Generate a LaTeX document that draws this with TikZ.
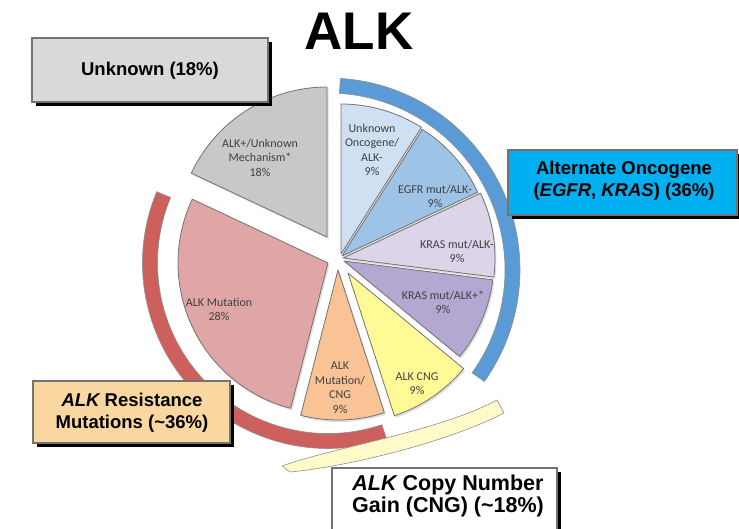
\documentclass[tikz,border=0pt]{standalone}
\usepackage{fontspec}
\setmainfont{Liberation Sans}
\newfontfamily\calfont{Carlito}
\usetikzlibrary{calc}
\definecolor{cGray}{RGB}{200,200,200}
\definecolor{cUnk}{RGB}{207,224,243}
\definecolor{cEgfr}{RGB}{157,195,230}
\definecolor{cKrasN}{RGB}{220,212,232}
\definecolor{cKrasP}{RGB}{180,167,210}
\definecolor{cCng}{RGB}{255,250,150}
\definecolor{cMutCng}{RGB}{250,195,150}
\definecolor{cMut}{RGB}{224,165,165}
\definecolor{cBlueBand}{RGB}{91,155,213}
\definecolor{cRedBand}{RGB}{205,96,92}
\definecolor{cYelBand}{RGB}{255,251,200}
\definecolor{cBoxGray}{RGB}{217,217,217}
\definecolor{cCyan}{RGB}{0,176,240}
\definecolor{cPeach}{RGB}{250,214,160}
\definecolor{cBorder}{RGB}{115,115,115}
\definecolor{cText}{RGB}{64,64,64}
\tikzset{
  slice/.style={draw=cBorder, line width=0.8pt, line join=round},
  sliceshadow/.style={fill=black!35, opacity=0.35},
  band/.style={draw=cBorder!80, line width=0.6pt, line join=round},
  slicelabel/.style={font=\calfont\fontsize{12}{14.5}\selectfont, text=cText, align=center, inner sep=0pt},
  boxlabel/.style={font=\bfseries\fontsize{18.5}{22}\selectfont, align=center, inner sep=0pt},
  boxframe/.style={draw=cBorder, line width=2.5pt},
  boxshadow/.style={fill=black},
}
% apex, start angle, end angle, radius (pt), colour
\newcommand\pieslc[5]{%
  \path[sliceshadow] ($(#1)+(1.5,-2)$) -- ++(#2:#4pt) arc[start angle=#2, end angle=#3, radius=#4pt] -- cycle;
  \path[fill=#5, slice] (#1) -- ++(#2:#4pt) arc[start angle=#2, end angle=#3, radius=#4pt] -- cycle;
}
\begin{document}
\begin{tikzpicture}[x=1pt,y=1pt]
\useasboundingbox (0,0) rectangle (739,-529);
\fill[white] (0,0) rectangle (739,-529);

% outer bands
\coordinate (cB) at (328,-270);
\path[fill=cBlueBand, band] ($(cB)+(86.3:192pt)$) arc[start angle=86.3, end angle=-35.5, radius=192pt]
   -- ($(cB)+(-35.5:177pt)$) arc[start angle=-35.5, end angle=86.3, radius=177pt] -- cycle;
\coordinate (cR) at (328,-263);
\path[fill=cRedBand, band] ($(cR)+(157.4:185.5pt)$) arc[start angle=157.4, end angle=288.4, radius=185.5pt]
   -- ($(cR)+(288.4:170.5pt)$) arc[start angle=288.4, end angle=157.4, radius=170.5pt] -- cycle;
\coordinate (y1) at (282,-466);
\coordinate (y2) at (497,-400);
\coordinate (y3) at (504,-413);
\coordinate (y4) at (290,-472);
\path[fill=cYelBand, band] (y1) .. controls (335,-447) and (440,-431) .. (y2)
   -- (y3) .. controls (446,-443) and (345,-467) .. (y4) -- cycle;

% slices
\coordinate (aG) at (327,-237);
\coordinate (aU) at (341,-254);
\coordinate (aE) at (342,-256);
\coordinate (aKn) at (343,-258);
\coordinate (aKp) at (344,-261);
\coordinate (aC) at (348,-273);
\coordinate (aMC) at (338,-270);
\coordinate (aM) at (328,-263);
\pieslc{aG}{90}{154.8}{150}{cGray}
\pieslc{aU}{57.6}{90}{150}{cUnk}
\pieslc{aE}{25.2}{57.6}{150}{cEgfr}
\pieslc{aKn}{-7.2}{25.2}{152}{cKrasN}
\pieslc{aKp}{-39.6}{-7.2}{150}{cKrasP}
\pieslc{aC}{-72}{-39.6}{150}{cCng}
\pieslc{aMC}{-104.4}{-72}{150}{cMutCng}
\pieslc{aM}{154.8}{255.6}{150}{cMut}

% slice labels
\node[slicelabel] (lG) at (260,-157.5) {ALK+/Unknown\\Mechanism*\\18\%};
\node[slicelabel] (lU) at (372,-150) {Unknown\\Oncogene/\\ALK-\\9\%};
\node[slicelabel] (lE) at (435,-196.5) {EGFR mut/ALK-\\9\%};
\node[slicelabel] (lKn) at (457,-251.5) {KRAS mut/ALK-\\9\%};
\node[slicelabel] (lKp) at (443,-302.5) {KRAS mut/ALK+*\\9\%};
\node[slicelabel] (lC) at (417,-383.5) {ALK CNG\\9\%};
\node[slicelabel] (lMC) at (340,-387.5) {ALK\\Mutation/\\CNG\\9\%};
\node[slicelabel] (lM) at (219,-309.5) {ALK Mutation\\28\%};

% boxes
\path[boxshadow] (36,-42) rectangle (272,-106);
\path[fill=cBoxGray, boxframe] (32,-38) rectangle (268,-102);
\node[boxlabel] (bUnk) at (150,-71) {Unknown (18\%)};

\path[boxshadow] (512,-154) rectangle (741,-219);
\path[fill=cCyan, boxframe] (508,-150) rectangle (737,-215);
\node[boxlabel] (bAlt) at (624,-181) {Alternate Oncogene\\({\itshape EGFR}, {\itshape KRAS}) (36\%)};

\path[boxshadow] (37,-385) rectangle (234,-447);
\path[fill=cPeach, boxframe] (33,-381) rectangle (230,-443);
\node[boxlabel] (bRes) at (132,-413) {{\itshape ALK} Resistance\\Mutations (\textasciitilde36\%)};

\path[boxshadow] (336,-472) rectangle (561,-545);
\path[fill=white, boxframe] (332,-468) rectangle (557,-541);
\node[boxlabel, font=\bfseries\fontsize{21.5}{22}\selectfont] (bCng) at (448,-496) {{\itshape ALK} Copy Number\\Gain (CNG) (\textasciitilde18\%)};

% title
\node[font=\bfseries\fontsize{53}{60}\selectfont, anchor=base, inner sep=0pt] (title) at (359,-50) {ALK};
\end{tikzpicture}
\end{document}
